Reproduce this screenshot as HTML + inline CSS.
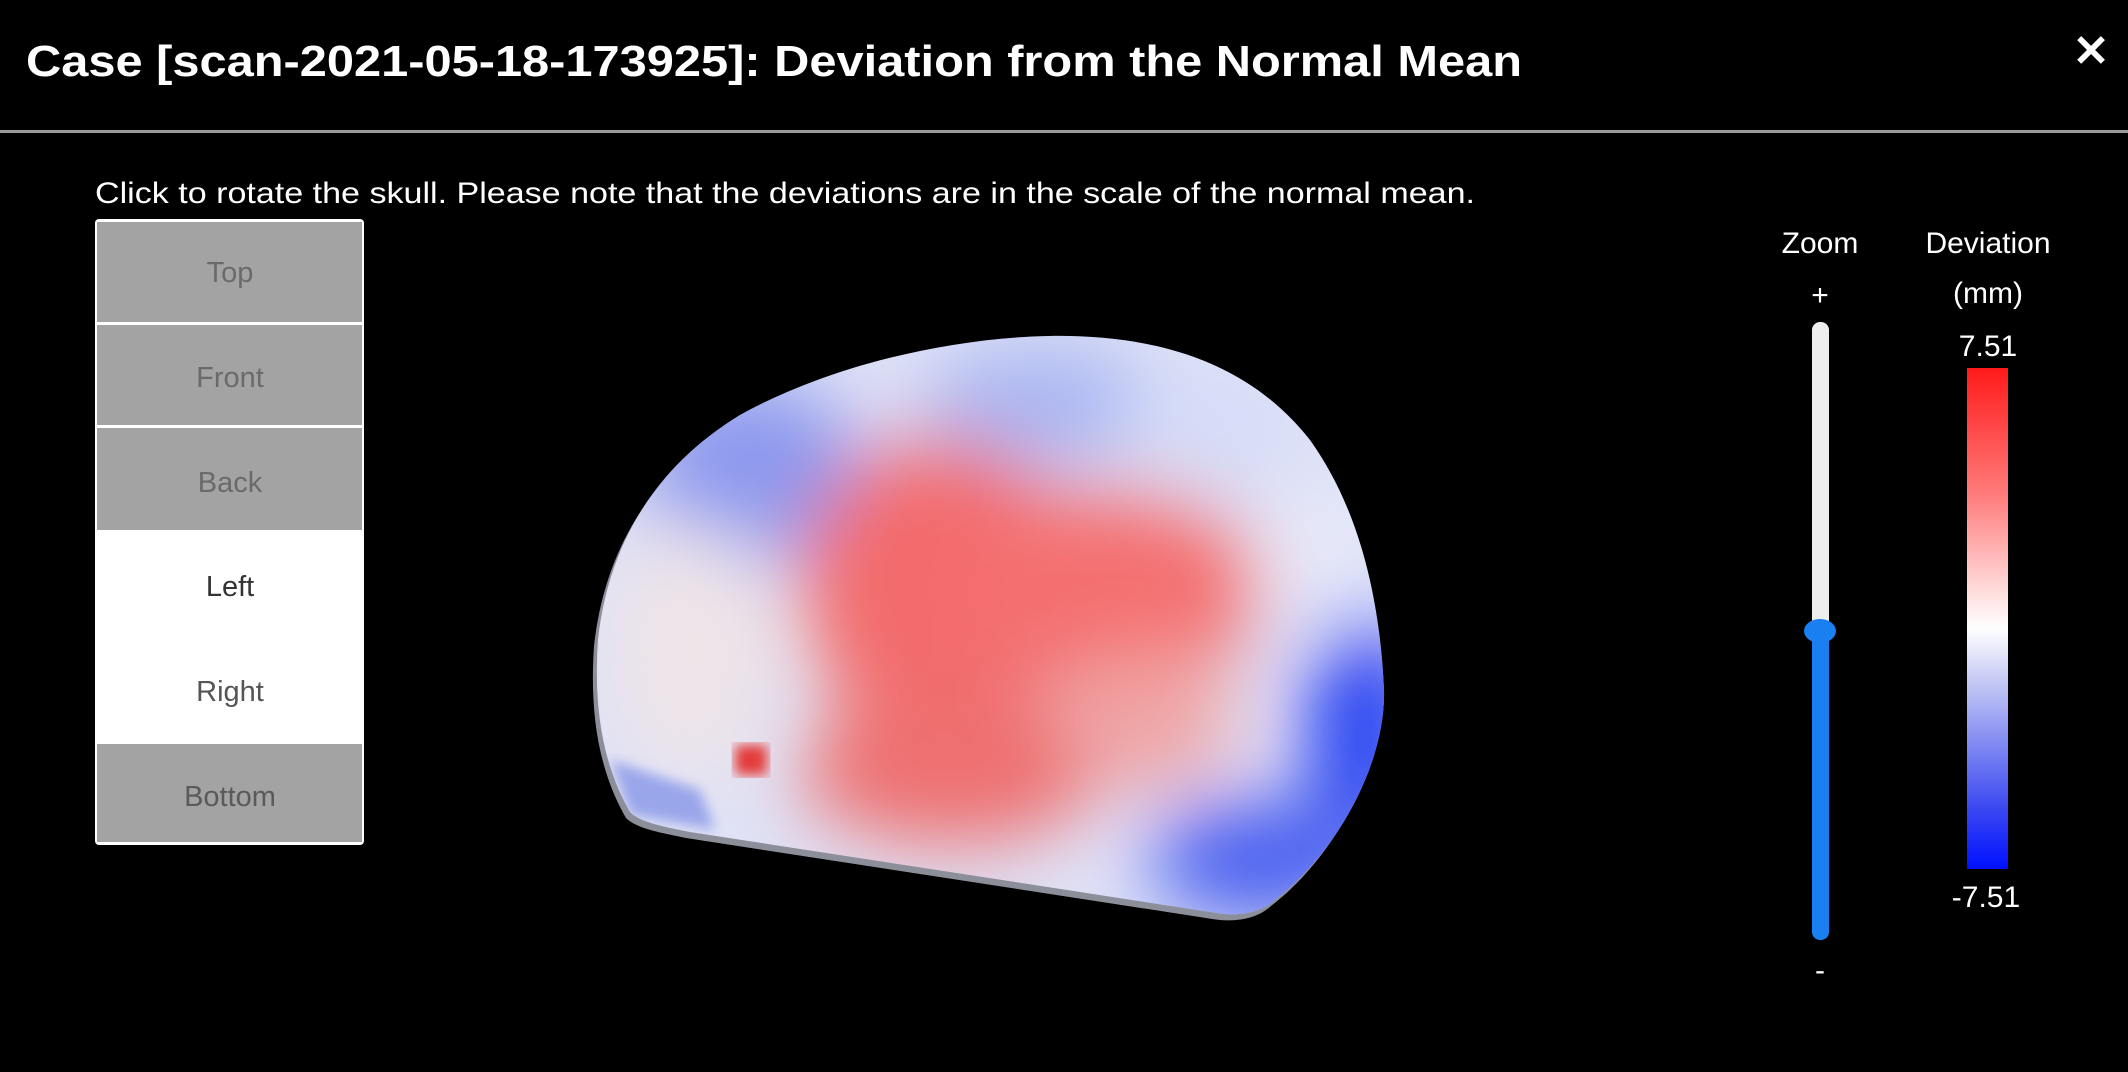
<!DOCTYPE html>
<html><head><meta charset="utf-8"><style>
html,body{margin:0;padding:0;background:#000;width:2128px;height:1072px;overflow:hidden}
svg{display:block}
text{font-family:"Liberation Sans",sans-serif}
</style></head><body>
<svg width="2128" height="1072" viewBox="0 0 2128 1072">
<defs>
  <clipPath id="skullClip"><path d="M1049,336 C1170,334 1255,370 1310,440 C1360,510 1380,600 1384,690 C1386,760 1340,850 1275,900 C1262,912 1240,918 1210,912 L690,832 C660,826 640,822 630,812 C600,760 594,700 598,640 C608,550 650,470 740,415 C830,365 950,338 1049,336 Z"/></clipPath>
  <filter id="blur" x="-20%" y="-20%" width="140%" height="140%"><feGaussianBlur stdDeviation="38"/></filter>
  <filter id="blur2"><feGaussianBlur stdDeviation="6"/></filter>
  <linearGradient id="cbar" x1="0" y1="0" x2="0" y2="1">
    <stop offset="0" stop-color="#ff1a1a"/><stop offset="0.25" stop-color="#ff7a7a"/>
    <stop offset="0.47" stop-color="#ffe8e8"/><stop offset="0.52" stop-color="#ffffff"/>
    <stop offset="0.62" stop-color="#c8ccf4"/><stop offset="0.88" stop-color="#3a48f0"/>
    <stop offset="1" stop-color="#0010ff"/>
  </linearGradient>
</defs>

<text x="26" y="76" font-size="44" font-weight="bold" fill="#fff" textLength="1496" lengthAdjust="spacingAndGlyphs">Case [scan-2021-05-18-173925]: Deviation from the Normal Mean</text>
<text x="2091" y="66" font-size="44" font-weight="bold" fill="#fff" text-anchor="middle">✕</text>
<rect x="0" y="130" width="2128" height="3" fill="#9a9a9a"/>

<text x="95" y="203" font-size="30" fill="#fff" textLength="1380" lengthAdjust="spacingAndGlyphs">Click to rotate the skull. Please note that the deviations are in the scale of the normal mean.</text>

<g>
  <rect x="95" y="219" width="269" height="626" rx="4" fill="#fff"/>
  <g><rect x="97" y="222" width="265" height="100" fill="#a3a3a3"/><text x="230" y="282" font-size="29" fill="#6a6a6a" text-anchor="middle">Top</text></g>
  <g><rect x="97" y="325" width="265" height="100" fill="#a3a3a3"/><text x="230" y="387" font-size="29" fill="#6a6a6a" text-anchor="middle">Front</text></g>
  <g><rect x="97" y="428" width="265" height="102" fill="#a3a3a3"/><text x="230" y="492" font-size="29" fill="#6a6a6a" text-anchor="middle">Back</text></g>
  <g><rect x="97" y="532" width="265" height="96" fill="#fff"/><text x="230" y="596" font-size="29" fill="#333" text-anchor="middle">Left</text></g>
  <g><rect x="97" y="634" width="265" height="108" fill="#fff"/><text x="230" y="701" font-size="29" fill="#555" text-anchor="middle">Right</text></g>
  <g><rect x="97" y="744" width="265" height="98" fill="#a3a3a3"/><text x="230" y="806" font-size="29" fill="#5a5a5a" text-anchor="middle">Bottom</text></g>
</g>

<g>
  <path d="M1049,336 C1170,334 1255,370 1310,440 C1360,510 1380,600 1384,690 C1386,760 1340,850 1275,900 C1262,912 1240,918 1210,912 L690,832 C660,826 640,822 630,812 C600,760 594,700 598,640 C608,550 650,470 740,415 C830,365 950,338 1049,336 Z" fill="#8c8f9a" transform="translate(-4,6)"/>
  <g clip-path="url(#skullClip)">
    <rect x="580" y="320" width="820" height="620" fill="#dfe2f6"/>
    <g filter="url(#blur)">
      <ellipse cx="750" cy="470" rx="110" ry="90" fill="#8b98ee"/>
      <ellipse cx="1040" cy="405" rx="120" ry="60" fill="#a9b6f2"/>
      <ellipse cx="1210" cy="430" rx="90" ry="60" fill="#d5dcf8"/>
      <ellipse cx="690" cy="650" rx="80" ry="130" fill="#efe4e8"/>
      <ellipse cx="940" cy="590" rx="140" ry="150" fill="#f36c6c"/>
      <ellipse cx="1110" cy="590" rx="150" ry="100" fill="#f47070"/>
      <ellipse cx="950" cy="770" rx="150" ry="75" fill="#ee7070"/>
      <ellipse cx="1150" cy="720" rx="80" ry="70" fill="#f0a4a4"/>
      <ellipse cx="1365" cy="730" rx="60" ry="120" fill="#2c45f2"/>
      <ellipse cx="1260" cy="860" rx="110" ry="60" fill="#4a5ef0"/>
      <ellipse cx="1320" cy="560" rx="50" ry="70" fill="#e8ebfa"/>
    </g>
    <rect x="735" y="745" width="32" height="30" fill="#e53a3a" filter="url(#blur2)"/>
    <path d="M610,760 L700,790 L715,830 L630,815 Z" fill="#9aa6ea" filter="url(#blur2)"/>
  </g>
</g>

<g>
  <text x="1820" y="253" font-size="30" fill="#fff" text-anchor="middle">Zoom</text>
  <text x="1820" y="305" font-size="30" fill="#fff" text-anchor="middle">+</text>
  <rect x="1812" y="322" width="17" height="320" rx="8" fill="#eeeeee"/>
  <rect x="1812" y="622" width="17" height="318" rx="8" fill="#1a7ff0"/>
  <ellipse cx="1820" cy="631" rx="16" ry="12" fill="#1a7ff0"/>
  <text x="1820" y="980" font-size="30" fill="#fff" text-anchor="middle">-</text>
</g>

<g>
  <text x="1988" y="253" font-size="30" fill="#fff" text-anchor="middle">Deviation</text>
  <text x="1988" y="303" font-size="30" fill="#fff" text-anchor="middle">(mm)</text>
  <text x="1988" y="356" font-size="30" fill="#fff" text-anchor="middle">7.51</text>
  <rect x="1967" y="368" width="41" height="501" fill="url(#cbar)"/>
  <text x="1986" y="907" font-size="30" fill="#fff" text-anchor="middle">-7.51</text>
</g>
</svg>
</body></html>
